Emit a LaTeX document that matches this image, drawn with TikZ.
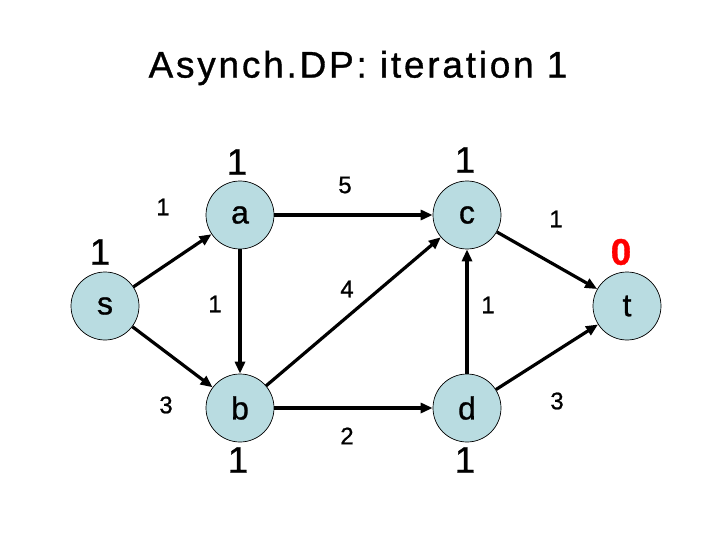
\documentclass[tikz,border=0pt]{standalone}
\usepackage{fontspec}
\setmainfont[FakeBold=0.9]{Liberation Sans}
\newfontfamily\titlefont[LetterSpace=7.5, FakeBold=0.9]{Liberation Sans}
\usetikzlibrary{arrows.meta}
\definecolor{AgentBlue}{HTML}{B9DCE1}
\definecolor{ZeroRed}{HTML}{FF0000}
\begin{document}
\begin{tikzpicture}[x=1pt, y=-1pt,
  agent/.style={circle, draw=black, line width=0.7pt, fill=AgentBlue, minimum size=68pt, inner sep=0pt, font=\fontsize{32}{34}\selectfont},
  link/.style={line width=3.2pt, -{Triangle[length=12pt, width=10pt]}},
  cost/.style={inner sep=0pt, font=\fontsize{24}{26}\selectfont},
  dist/.style={inner sep=0pt, font=\fontsize{37}{40}\selectfont}]
\useasboundingbox (0,0) rectangle (720,540);
% --- title ---
\node[font=\titlefont\fontsize{37}{40}\selectfont] (title) at (358,68) {Asynch.DP: iteration 1};
% --- agents ---
\node[agent] (s) at (105,306) {s};
\node[agent] (a) at (240,215) {a};
\node[agent] (b) at (240,408) {b};
\node[agent] (c) at (467,215) {c};
\node[agent] (d) at (467,408) {d};
\node[agent] (t) at (627,306) {t};
% --- links ---
\draw[link] (s) -- (a);
\draw[link] (s) -- (b);
\draw[link] (a) -- (b);
\draw[link] (a) -- (c);
\draw[link] (b) -- (c);
\draw[link] (b) -- (d);
\draw[link] (d) -- (c);
\draw[link] (c) -- (t);
\draw[link] (d) -- (t);
% --- link costs ---
\node[cost] (w-sa) at (163,207) {1};
\node[cost] (w-sb) at (166,405) {3};
\node[cost] (w-ab) at (215,304) {1};
\node[cost] (w-ac) at (345,185) {5};
\node[cost] (w-bc) at (347,289) {4};
\node[cost] (w-bd) at (347,436) {2};
\node[cost] (w-dc) at (488,305) {1};
\node[cost] (w-ct) at (556,219) {1};
\node[cost] (w-dt) at (557,401) {3};
% --- current distances ---
\node[dist] (v-s) at (100,252) {1};
\node[dist] (v-a) at (237,162) {1};
\node[dist] (v-b) at (238,460) {1};
\node[dist] (v-c) at (465,160) {1};
\node[dist] (v-d) at (465,460) {1};
\node[dist, text=ZeroRed, font=\bfseries\fontsize{37}{40}\selectfont] (v-t) at (621,252) {0};
\end{tikzpicture}
\end{document}
